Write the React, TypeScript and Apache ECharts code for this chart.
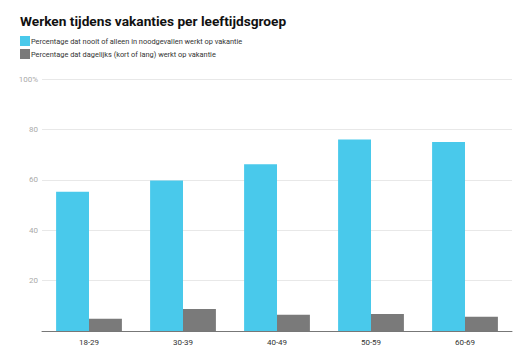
import React, { useEffect, useRef } from "react";
import * as echarts from "echarts";

const categories = ["18-29", "30-39", "40-49", "50-59", "60-69"];
const seriesNames = [
  "Percentage dat nooit of alleen in noodgevallen werkt op vakantie",
  "Percentage dat dagelijks (kort of lang) werkt op vakantie",
];
const neverValues = [55.3, 59.7, 66.2, 76.0, 75.0];
const dailyValues = [4.9, 8.7, 6.4, 6.7, 5.7];
const yTicks = [0, 20, 40, 60, 80, 100];

export default function App() {
  const ref = useRef<HTMLDivElement>(null);
  useEffect(() => {
    if (!ref.current) return;
    const chart = echarts.init(ref.current, null, { renderer: "svg" });
    chart.setOption({
      animation: false,
      textStyle: { fontFamily: "Roboto" },
      title: {
        text: "Werken tijdens vakanties per leeftijdsgroep",
        left: 7,
        top: 1,
        textStyle: { fontSize: 13.7, fontWeight: "bold", color: "#111", fontFamily: "Roboto" },
      },
      legend: {
        orient: "vertical",
        left: 7,
        top: 23,
        itemWidth: 10,
        itemHeight: 10,
        itemGap: 3,
        icon: "rect",
        textStyle: { fontSize: 7.4, color: "#333", padding: [0, 0, 0, -4] },
        data: seriesNames,
      },
      grid: { left: 34, right: 9, top: 71, bottom: 15 },
      xAxis: {
        type: "category",
        data: categories,
        axisTick: { show: false },
        axisLine: { lineStyle: { color: "#777", width: 1 } },
        axisLabel: { fontSize: 8, color: "#333", margin: 7 },
      },
      yAxis: {
        type: "value",
        min: yTicks[0],
        max: yTicks[yTicks.length - 1],
        interval: 20,
        axisLabel: {
          fontSize: 8,
          color: "#aaa",
          margin: 4,
          formatter: (v: number) => (v === 0 ? "" : v === 100 ? v + "%" : String(v)),
        },
        splitLine: { lineStyle: { color: "#e8e8e8" } },
      },
      series: [
        {
          name: seriesNames[0],
          type: "bar",
          data: neverValues,
          itemStyle: { color: "#49C9EB" },
          barGap: "0%",
          barCategoryGap: "30%",
        },
        {
          name: seriesNames[1],
          type: "bar",
          data: dailyValues,
          itemStyle: { color: "#7A7A7A" },
          barGap: "0%",
          barCategoryGap: "30%",
        },
      ],
    });
    return () => chart.dispose();
  }, []);
  return <div ref={ref} style={{ width: 513, height: 338 }} />;
}
